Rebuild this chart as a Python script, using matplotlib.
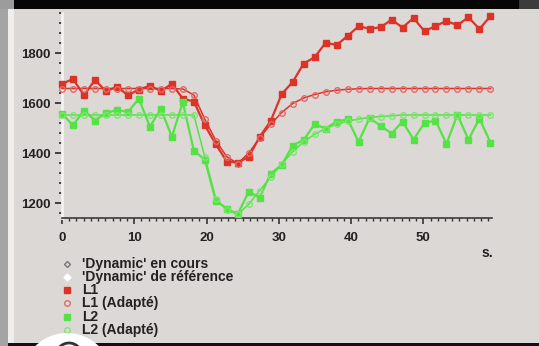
import matplotlib
matplotlib.use("Agg")
import matplotlib.pyplot as plt
from matplotlib.patches import Rectangle, Ellipse
from matplotlib.lines import Line2D
from matplotlib.ticker import MultipleLocator
import numpy as np

plt.rcParams['font.family'] = ['Liberation Sans', 'DejaVu Sans']
plt.rcParams['font.weight'] = 'bold'

# sample times (s), one sample every ~1.5 s
t = np.arange(40) * 1.52

# L1 measured
l1 = [1677, 1696, 1631, 1692, 1647, 1665, 1631, 1654, 1669, 1648,
      1677, 1617, 1606, 1511, 1435, 1366, 1362, 1384, 1465, 1528,
      1636, 1684, 1758, 1783, 1841, 1832, 1868, 1907, 1897, 1903,
      1933, 1902, 1940, 1887, 1908, 1928, 1911, 1943, 1896, 1947]
# L1 adapted
l1_adapt = [1658, 1658, 1658, 1658, 1658, 1658, 1658, 1658, 1658, 1658,
            1658, 1656, 1632, 1535, 1450, 1385, 1358, 1400, 1460, 1515,
            1562, 1598, 1620, 1634, 1645, 1651, 1655, 1657, 1658, 1658,
            1658, 1658, 1658, 1658, 1658, 1658, 1658, 1658, 1658, 1658]
# L2 measured
l2 = [1557, 1511, 1570, 1530, 1559, 1573, 1564, 1617, 1505, 1577,
      1465, 1603, 1410, 1373, 1210, 1177, 1156, 1245, 1222, 1318,
      1352, 1430, 1452, 1515, 1498, 1526, 1535, 1445, 1540, 1509,
      1478, 1526, 1454, 1520, 1530, 1437, 1553, 1453, 1538, 1442]
# L2 adapted
l2_adapt = [1552, 1552, 1552, 1552, 1552, 1552, 1552, 1552, 1552, 1552,
            1552, 1552, 1552, 1385, 1218, 1172, 1155, 1195, 1250, 1305,
            1355, 1405, 1445, 1475, 1498, 1515, 1527, 1536, 1542, 1546,
            1549, 1552, 1552, 1552, 1552, 1552, 1552, 1552, 1552, 1552]

legend_labels = ["'Dynamic' en cours", "'Dynamic' de référence",
                 "L1", "L1 (Adapté)", "L2", "L2 (Adapté)"]

bg = '#dcd8d6'
red = '#dc3328'
red_light = '#e06a66'
green = '#55e245'
green_light = '#7ae86c'

W, H = 539, 346
fig = plt.figure(figsize=(W / 100, H / 100), dpi=100, facecolor=bg)
ax = fig.add_axes([62 / W, (H - 218) / H, 430 / W, 205 / H])
ax.set_facecolor(bg)

ax.plot(t, l1, color=red, lw=1.6, marker='s', ms=3.8, mfc=red, mec=red, zorder=3, clip_on=False)
ax.plot(t, l1_adapt, color=red, lw=1.1, marker='o', ms=4, mfc='none', mec=red_light, mew=1, zorder=4, clip_on=False)
ax.plot(t, l2, color=green, lw=1.6, marker='s', ms=3.8, mfc=green, mec=green, zorder=3, clip_on=False)
ax.plot(t, l2_adapt, color=green, lw=1.1, marker='o', ms=4, mfc='none', mec=green_light, mew=1, zorder=4, clip_on=False)

ax.set_xlim(0, 59.5)
ax.set_ylim(1140, 1960)
ax.set_xticks([0, 10, 20, 30, 40, 50])
ax.set_yticks([1200, 1400, 1600, 1800])
ax.xaxis.set_minor_locator(MultipleLocator(1))
ax.yaxis.set_minor_locator(MultipleLocator(40))

for s in ['top', 'right']:
    ax.spines[s].set_visible(False)
ax.spines['left'].set_color('#f4f2f1')
ax.spines['left'].set_linewidth(2)
ax.spines['bottom'].set_color('#3a3a3a')
ax.spines['bottom'].set_linewidth(1.2)

ax.tick_params(axis='y', which='major', direction='out', length=5, width=1.3,
               color='#333333', pad=3, labelsize=9.5, labelcolor='#222222')
ax.tick_params(axis='y', which='minor', direction='out', length=2, width=1.4, color='#444444')
ax.tick_params(axis='x', which='major', direction='out', length=4, width=1.2,
               color='#333333', pad=6, labelsize=9.5, labelcolor='#222222')
ax.tick_params(axis='x', which='minor', direction='out', length=2.5, width=1, color='#333333')

fig.text(487 / W, 1 - 253 / H, 's.', ha='center', va='center', fontsize=10, color='#222222')

# legend drawn by hand, markers next to text rows
markers = [dict(marker='D', ms=3, mfc='none', mec='#777777', mew=1),
           dict(marker='D', ms=3.5, mfc='white', mec='white'),
           dict(marker='s', ms=3.8, mfc=red, mec=red),
           dict(marker='o', ms=4, mfc='none', mec=red_light, mew=1),
           dict(marker='s', ms=3.8, mfc=green, mec=green),
           dict(marker='o', ms=4, mfc='none', mec=green_light, mew=1)]
rows = [264, 277, 290, 303, 317, 330]
for lab, m, y in zip(legend_labels, markers, rows):
    fig.add_artist(Line2D([67 / W], [1 - y / H], transform=fig.transFigure, ls='none', **m))
    fig.text(82 / W, 1 - y / H, lab, va='center', fontsize=10, color='#222222')


# screenshot frame around the chart
def rect(x0, y0, x1, y1, c):
    fig.add_artist(Rectangle((x0 / W, 1 - y1 / H), (x1 - x0) / W, (y1 - y0) / H,
                             transform=fig.transFigure, color=c, lw=0, zorder=10))


rect(0, 0, 14, 9, '#9c9c9c')
rect(0, 9, 8, 346, '#a4a4a4')
rect(8, 9, 14, 346, '#efeeed')
rect(14, 0, 519, 9, '#060606')
rect(519, 0, 539, 9, '#3b3b3b')
rect(8, 343, 539, 346, '#111111')
fig.add_artist(Ellipse((67 / W, 1 - 378 / H), 90 / W, 90 / H, transform=fig.transFigure,
                       color='white', lw=0, zorder=11))
fig.add_artist(Ellipse((69 / W, 1 - 356 / H), 26 / W, 26 / H, transform=fig.transFigure,
                       fill=False, ec='#333333', lw=2, zorder=12))

fig.savefig('out.png', dpi=100, facecolor=bg)
